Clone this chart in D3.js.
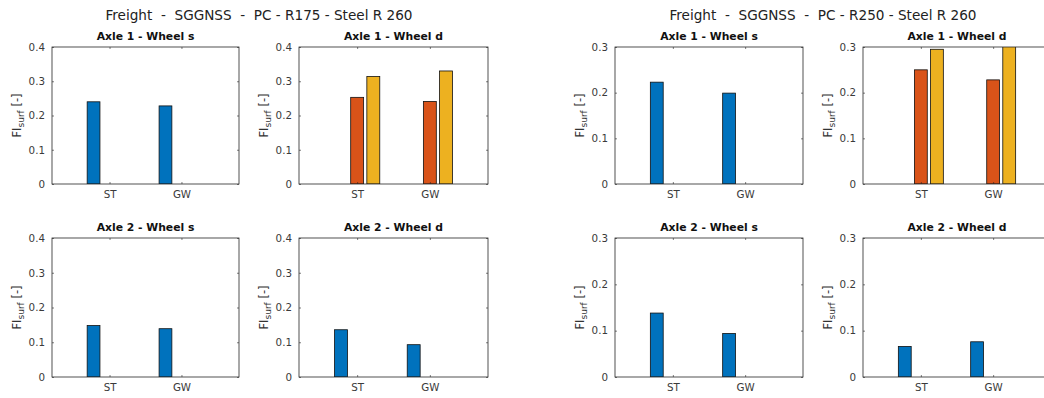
<!DOCTYPE html>
<html>
<head>
<meta charset="utf-8">
<script src="https://cdn.jsdelivr.net/npm/d3@7/dist/d3.min.js"></script>
<style>
  body { margin: 0; background: #fff; }
  text { font-family: "DejaVu Sans", sans-serif; }
</style>
</head>
<body>
<div id="chart"></div>
<script>
// ---- data ----
var categories = ["ST", "GW"];
var figureTitles = ["Freight  -  SGGNSS  -  PC - R175 - Steel R 260",
                    "Freight  -  SGGNSS  -  PC - R250 - Steel R 260"];
var panelTitles = ["Axle 1 - Wheel s", "Axle 1 - Wheel d", "Axle 2 - Wheel s", "Axle 2 - Wheel d"];
var yTicksR175 = [0, 0.1, 0.2, 0.3, 0.4];
var yTicksR250 = [0, 0.1, 0.2, 0.3];

// values: [series][category]
var r175Axle1S = [[0.240, 0.228], [0, 0], [0, 0]];
var r175Axle1D = [[0, 0], [0.253, 0.241], [0.314, 0.330]];
var r175Axle2S = [[0.148, 0.139], [0, 0], [0, 0]];
var r175Axle2D = [[0.136, 0.093], [0, 0], [0, 0]];
var r250Axle1S = [[0.223, 0.199], [0, 0], [0, 0]];
var r250Axle1D = [[0, 0], [0.250, 0.228], [0.295, 0.330]];
var r250Axle2S = [[0.138, 0.094], [0, 0], [0, 0]];
var r250Axle2D = [[0.066, 0.076], [0, 0], [0, 0]];

var w = 1044;
var h = 398;
var colors = ["#0072BD", "#D95319", "#EDB120"];
var axisColor = "#262626";

var svg = d3.select("#chart")
  .append("svg")
  .attr("width", w)
  .attr("height", h)
  .style("background", "#fff");

// suptitles
svg.append("text").attr("x", 259).attr("y", 20).attr("text-anchor", "middle")
  .style("font-size", "13.6px").attr("fill", "#222")
  .attr("xml:space", "preserve")
  .text(figureTitles[0]);
svg.append("text").attr("x", 823).attr("y", 20).attr("text-anchor", "middle")
  .style("font-size", "13.6px").attr("fill", "#222")
  .attr("xml:space", "preserve")
  .text(figureTitles[1]);

var panels = [
  {left: 52,  top: 47,  width: 187, height: 137, data: r175Axle1S, title: 0, ticks: yTicksR175},
  {left: 299, top: 47,  width: 189, height: 137, data: r175Axle1D, title: 1, ticks: yTicksR175},
  {left: 52,  top: 238, width: 187, height: 139, data: r175Axle2S, title: 2, ticks: yTicksR175},
  {left: 299, top: 238, width: 189, height: 139, data: r175Axle2D, title: 3, ticks: yTicksR175},
  {left: 615, top: 47,  width: 188, height: 137, data: r250Axle1S, title: 0, ticks: yTicksR250},
  {left: 863, top: 47,  width: 188, height: 137, data: r250Axle1D, title: 1, ticks: yTicksR250},
  {left: 615, top: 238, width: 188, height: 139, data: r250Axle2S, title: 2, ticks: yTicksR250},
  {left: 863, top: 238, width: 188, height: 139, data: r250Axle2D, title: 3, ticks: yTicksR250}
];

var fmt = d3.format(".1~f");

function drawPanel(p, idx) {
  var g = svg.append("g").attr("transform", "translate(" + p.left + "," + p.top + ")");

  var x = d3.scaleLinear().domain([0.2, 2.8]).range([0, p.width]);
  var y = d3.scaleLinear().domain([0, d3.max(p.ticks)]).range([p.height, 0]);

  var clipId = "clip" + idx;
  g.append("clipPath").attr("id", clipId)
    .append("rect").attr("width", p.width).attr("height", p.height);

  // grouped bars (3 series, matlab style)
  var nS = p.data.length;
  var groupW = Math.min(0.8, nS / (nS + 1.5));
  var step = groupW / nS;
  var barW = step * 0.8;

  var bars = [];
  p.data.forEach(function(series, s) {
    series.forEach(function(v, c) {
      if (v > 0) bars.push({s: s, c: c, v: v});
    });
  });

  g.append("g").attr("clip-path", "url(#" + clipId + ")")
    .selectAll("rect")
    .data(bars)
    .enter()
    .append("rect")
    .attr("x", function(d) { return x(d.c + 1 + (d.s - (nS - 1) / 2) * step - barW / 2); })
    .attr("width", function(d) { return x(barW) - x(0); })
    .attr("y", function(d) { return y(d.v); })
    .attr("height", function(d) { return y(0) - y(d.v); })
    .attr("fill", function(d) { return colors[d.s]; })
    .attr("stroke", "#111")
    .attr("stroke-width", 0.8);

  // axes
  var yAxis = d3.axisLeft(y).tickValues(p.ticks).tickSize(-2).tickSizeOuter(0)
    .tickPadding(7).tickFormat(fmt);
  var yg = g.append("g").call(yAxis);
  var yRg = g.append("g").attr("transform", "translate(" + p.width + ",0)")
    .call(d3.axisRight(y).tickValues(p.ticks).tickSize(-2).tickSizeOuter(0).tickFormat(""));

  var xAxis = d3.axisBottom(x).tickValues([1, 2]).tickSize(-2).tickSizeOuter(0)
    .tickPadding(7).tickFormat(function(d) { return categories[d - 1]; });
  var xg = g.append("g").attr("transform", "translate(0," + p.height + ")").call(xAxis);
  var xTg = g.append("g").call(d3.axisTop(x).tickValues([1, 2]).tickSize(-2).tickSizeOuter(0).tickFormat(""));

  [yg, yRg, xg, xTg].forEach(function(a) {
    a.select(".domain").remove();
    a.selectAll("line").attr("stroke", axisColor).attr("stroke-width", 0.6);
    a.selectAll("text").style("font-size", "10.3px").attr("fill", "#3a3a3a")
      .style("font-family", "DejaVu Sans, sans-serif");
  });

  // box
  g.append("rect").attr("width", p.width).attr("height", p.height)
    .attr("fill", "none").attr("stroke", axisColor).attr("stroke-width", 0.8);

  // subplot title
  g.append("text").attr("x", p.width / 2).attr("y", -7).attr("text-anchor", "middle")
    .style("font-size", "10.8px").style("font-weight", "bold").attr("fill", "#111")
    .text(panelTitles[p.title]);

  // y label
  var lab = g.append("text")
    .attr("transform", "translate(" + (-31) + "," + (p.height / 2) + ") rotate(-90)")
    .attr("text-anchor", "middle")
    .style("font-size", "11.5px").attr("fill", "#333");
  lab.append("tspan").text("FI");
  lab.append("tspan").attr("dy", 3).style("font-size", "9px").text("surf");
  lab.append("tspan").attr("dy", -3).text(" [-]");
}

panels.forEach(function(p, i) { drawPanel(p, i); });
</script>
</body>
</html>
